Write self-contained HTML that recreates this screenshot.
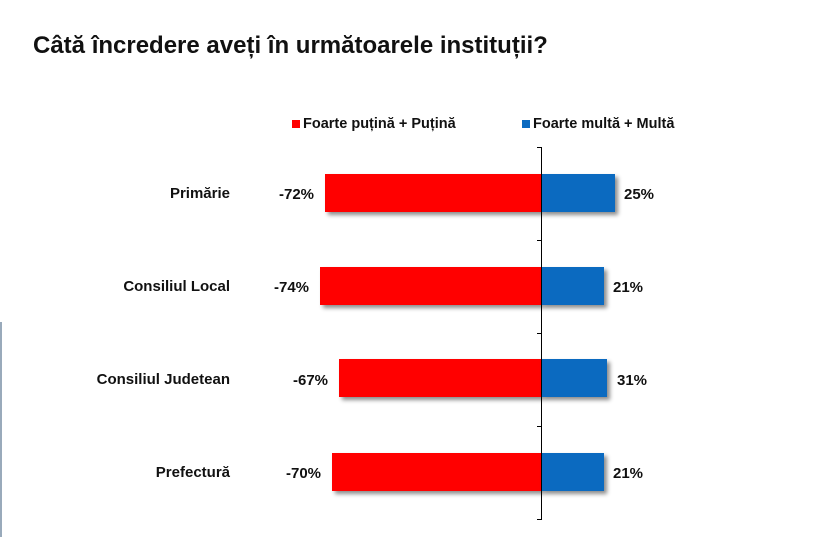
<!DOCTYPE html><html><head><style>
body{margin:0;width:829px;height:537px;background:#fff;position:relative;overflow:hidden;font-family:"Liberation Sans",Arial,sans-serif;font-weight:bold;color:#111}
.a{position:absolute;white-space:nowrap}
.t{left:33px;top:32px;font-size:24px}
.lg{font-size:14.5px;top:116px}
.sq{display:inline-block;width:8px;height:8px;margin-right:3px}
.cat{font-size:15px;right:599px;text-align:right}
.p{font-size:15px}
.r{position:absolute;background:#f00;box-shadow:3px 3px 4px rgba(0,0,0,.45)}
.b{position:absolute;background:#0b6ac0;box-shadow:3px 3px 4px rgba(0,0,0,.45)}
.tk{position:absolute;left:537px;width:5px;height:1px;background:#000}
</style></head><body>
<div class="a t">Câtă încredere aveți în următoarele instituții?</div>
<div class="a lg" style="left:292px"><span class="sq" style="background:#f00"></span>Foarte puțină + Puțină</div>
<div class="a lg" style="left:522px"><span class="sq" style="background:#0b6ac0"></span>Foarte multă + Multă</div>

<div class="r" style="left:325px;top:174px;width:216px;height:38px"></div>
<div class="b" style="left:541px;top:174px;width:74px;height:38px"></div>
<div class="r" style="left:320px;top:267px;width:221px;height:38px"></div>
<div class="b" style="left:541px;top:267px;width:63px;height:38px"></div>
<div class="r" style="left:339px;top:359px;width:202px;height:38px"></div>
<div class="b" style="left:541px;top:359px;width:66px;height:38px"></div>
<div class="r" style="left:332px;top:453px;width:209px;height:38px"></div>
<div class="b" style="left:541px;top:453px;width:63px;height:38px"></div>

<div style="position:absolute;left:541px;top:147px;width:1px;height:373px;background:#000"></div>
<div class="tk" style="top:147px"></div><div class="tk" style="top:240px"></div><div class="tk" style="top:333px"></div><div class="tk" style="top:426px"></div><div class="tk" style="top:519px"></div>

<div class="a cat" style="top:185px">Primărie</div>
<div class="a cat" style="top:278px">Consiliul Local</div>
<div class="a cat" style="top:371px">Consiliul Judetean</div>
<div class="a cat" style="top:464px">Prefectură</div>

<div class="a p" style="left:279px;top:186px">-72%</div>
<div class="a p" style="left:274px;top:279px">-74%</div>
<div class="a p" style="left:293px;top:372px">-67%</div>
<div class="a p" style="left:286px;top:465px">-70%</div>
<div class="a p" style="left:624px;top:186px">25%</div>
<div class="a p" style="left:613px;top:279px">21%</div>
<div class="a p" style="left:617px;top:372px">31%</div>
<div class="a p" style="left:613px;top:465px">21%</div>
<div style="position:absolute;left:0;top:322px;width:2px;height:215px;background:#9ab"></div>
</body></html>
